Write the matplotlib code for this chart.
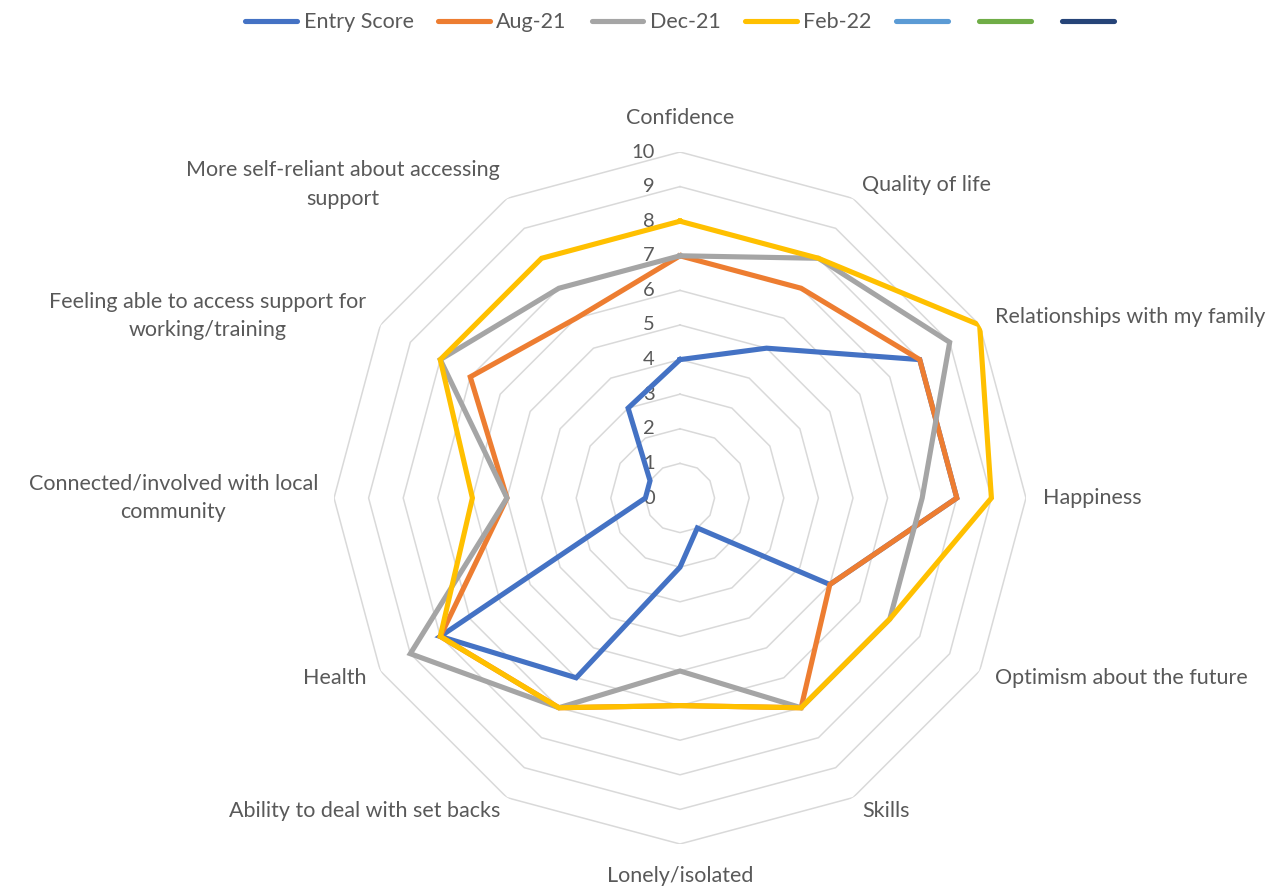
import numpy as np
import matplotlib
matplotlib.use("Agg")
import matplotlib.pyplot as plt
from matplotlib.lines import Line2D

categories = ["Confidence", "Quality of life", "Relationships with my family", "Happiness",
              "Optimism about the future", "Skills", "Lonely/isolated",
              "Ability to deal with set backs", "Health",
              "Connected/involved with local\ncommunity",
              "Feeling able to access support for\nworking/training",
              "More self-reliant about accessing\nsupport"]
entry_score = [4, 5, 8, 8, 5, 1, 2, 6, 8, 1, 1, 3]
aug_21 = [7, 7, 8, 8, 5, 7, 6, 7, 8, 5, 7, 6]
dec_21 = [7, 8, 9, 7, 7, 7, 5, 7, 9, 5, 8, 7]
feb_22 = [8, 8, 10, 9, 7, 7, 6, 7, 8, 6, 8, 8]
series_names = ["Entry Score", "Aug-21", "Dec-21", "Feb-22", "", "", ""]
series_colors = ["#4472C4", "#ED7D31", "#A5A5A5", "#FFC000", "#5B9BD5", "#70AD47", "#264478"]
ticks = list(range(0, 11))

FONT = "Lato"
TXT = "#595959"
FS = 15.5

W, H = 1286, 886
fig = plt.figure(figsize=(W / 100, H / 100), dpi=100)
cx, cy, R = 680, 498, 346
ax = fig.add_axes([(cx - R) / W, (H - cy - R) / H, 2 * R / W, 2 * R / H], projection="polar")
ax.set_theta_offset(np.pi / 2)
ax.set_theta_direction(-1)
ax.set_ylim(0, 10)
ax.grid(False)
ax.spines["polar"].set_visible(False)
ax.set_xticks([])
ax.set_yticks([])
ax.patch.set_visible(False)

n = len(categories)
theta = np.arange(n) * 2 * np.pi / n
theta_c = np.append(theta, theta[0])

# grid polygons
for t in ticks[1:]:
    ax.plot(theta_c, [t] * (n + 1), color="#D9D9D9", lw=1.1, zorder=1)

# data
for vals, col in zip([entry_score, aug_21, dec_21, feb_22], series_colors[:4]):
    v = np.append(vals, vals[0])
    ax.plot(theta_c, v, color=col, lw=3.7, zorder=3, solid_joinstyle="miter")

# tick labels
px = 0.72
for t in ticks:
    ax.annotate(str(t), xy=(0, t), xytext=(-25 * px, 0), textcoords="offset points",
                ha="right", va="center", fontsize=14.5, color=TXT, family=FONT, zorder=2)

# category labels: (ha, dx, dy) in pixels
lab = [("center", 0, 34), ("left", 9, 13), ("left", 15, 8), ("left", 17, 0),
       ("left", 15, -7), ("left", 9, -13), ("center", 0, -32), ("right", -7, -13),
       ("right", -14, -7), ("right", -16, 0), ("right", -14, 9), ("right", -7, 14)]
for th, name, (ha, dx, dy) in zip(theta, categories, lab):
    ax.annotate(name, xy=(th, 10), xytext=(dx * px, dy * px), textcoords="offset points",
                ha=ha, va="center", multialignment="center", fontsize=FS, color=TXT,
                family=FONT, linespacing=1.55, annotation_clip=False)

handles = [Line2D([0], [0], color=c, lw=3.7, solid_capstyle="round") for c in series_colors]
leg = fig.legend(handles, series_names, loc="upper center", bbox_to_anchor=(0.531, 1.008), ncol=7,
                 frameon=False, handlelength=2.4, handletextpad=0.3, columnspacing=1.15,
                 prop={"family": FONT, "size": FS})
for t in leg.get_texts():
    t.set_color(TXT)

fig.savefig("out.png", dpi=100, facecolor="white")
